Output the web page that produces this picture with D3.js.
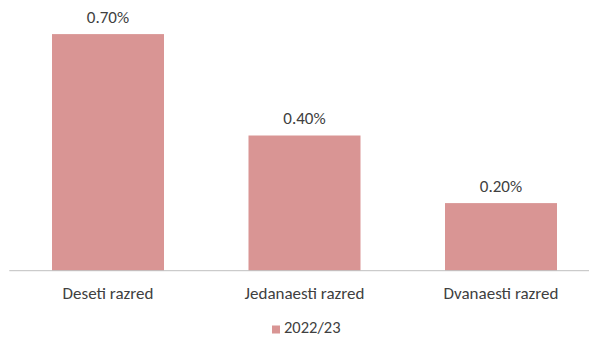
<!DOCTYPE html>
<html><head><meta charset="utf-8">
<script src="https://cdn.jsdelivr.net/npm/d3@7"></script>
<style>
html,body{margin:0;padding:0;background:#fff;}
svg{display:block;font-family:Carlito,Lato,"Liberation Sans",sans-serif;}
</style></head>
<body><svg id="c" width="589" height="337"></svg>
<script>
const categories = ["Deseti razred", "Jedanaesti razred", "Dvanaesti razred"];
const values = [0.70, 0.40, 0.20];
const valueLabels = ["0.70%", "0.40%", "0.20%"];
const seriesName = "2022/23";

const svg = d3.select("#c");
const color = "#d99594";
const textColor = "#404040";

const x = d3.scaleBand().domain(categories).range([9.75, 599.25]).paddingInner(0.43).paddingOuter(0.215);
const y = d3.scaleLinear().domain([0, 0.8]).range([270.7, 0.3]);

svg.selectAll("rect.bar").data(values).join("rect").attr("class","bar")
  .attr("x", (d,i)=>x(categories[i])).attr("width", x.bandwidth())
  .attr("y", d=>y(d)).attr("height", d=>y(0)-y(d)).attr("fill", color);

svg.append("line").attr("x1", 9.3).attr("x2", 589).attr("y1", y(0)).attr("y2", y(0))
  .attr("stroke", "#bfbfbf").attr("stroke-width", 1);

svg.selectAll("text.val").data(values).join("text").attr("class","val")
  .attr("x", (d,i)=>x(categories[i]) + x.bandwidth()/2).attr("y", d=>y(d)-11.5)
  .attr("text-anchor","middle").attr("font-size", 17).attr("fill", textColor)
  .text((d,i)=>valueLabels[i]);

svg.selectAll("text.cat").data(categories).join("text").attr("class","cat")
  .attr("x", d=>x(d) + x.bandwidth()/2).attr("y", 299)
  .attr("text-anchor","middle").attr("font-size", 17).attr("fill", textColor)
  .text(d=>d);

const lg = svg.append("g");
lg.append("rect").attr("x", 272).attr("y", 325.5).attr("width", 8).attr("height", 8).attr("fill", color);
lg.append("text").attr("x", 284).attr("y", 333).attr("font-size", 16.5).attr("fill", textColor).text(seriesName);
</script></body></html>
